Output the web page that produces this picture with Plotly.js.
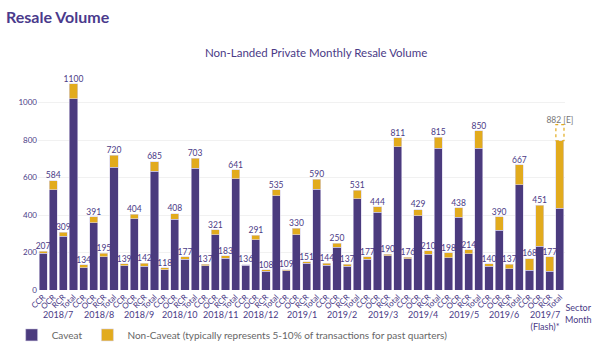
<!DOCTYPE html>
<html>
<head>
<meta charset="utf-8">
<script src="https://cdn.plot.ly/plotly-3.0.1.min.js"></script>
<style>html,body{margin:0;padding:0;background:#fff;}#chart{width:600px;height:361px;}</style>
</head>
<body>
<div id="chart"></div>
<script>
const months = ['2018/7','2018/8','2018/9','2018/10','2018/11','2018/12','2019/1','2019/2','2019/3','2019/4','2019/5','2019/6','2019/7<br>(Flash)*'];
const sectors = ['CCR','OCR','RCR','Total'];

const ccrCaveat    = [196,119,130,108,129,131,103,131,164,166,173,128,105];
const ccrNonCaveat = [11,15,9,10,8,5,6,13,13,10,25,12,63];
const ccrLabel     = [207,134,139,118,137,136,109,144,177,176,198,140,168];

const ocrCaveat    = [535,360,379,378,294,269,295,229,414,395,388,318,234];
const ocrNonCaveat = [49,31,25,30,27,22,35,21,30,34,50,72,217];
const ocrLabel     = [584,391,404,408,321,291,330,250,444,429,438,390,451];

const rcrCaveat    = [287,177,128,164,170,101,142,126,182,190,194,114,100];
const rcrNonCaveat = [22,18,14,13,13,7,9,11,8,20,20,23,77];
const rcrLabel     = [309,195,142,177,183,108,151,137,190,210,214,137,177];

const totalCaveat    = [1021,654,633,650,593,503,538,486,764,755,757,561,437];
const totalNonCaveat = [79,66,52,53,48,32,52,45,47,60,93,106,359];
const totalLabel     = ['1100','720','685','703','641','535','590','531','811','815','850','667','882 [E]'];
const totalLabelValue = [1100,720,685,703,641,535,590,531,811,815,850,667,882];

const PURPLE = '#4b3b7e';
const YELLOW = '#e2ab1d';
const TEXT = '#4a3a86';

const cav = [ccrCaveat, ocrCaveat, rcrCaveat, totalCaveat];
const non = [ccrNonCaveat, ocrNonCaveat, rcrNonCaveat, totalNonCaveat];
const lab = [ccrLabel.map(String), ocrLabel.map(String), rcrLabel.map(String), totalLabel];
const labV = [ccrLabel, ocrLabel, rcrLabel, totalLabelValue];

const xs=[], yc=[], yn=[], lt=[], ly=[], lc=[], tickvals=[], ticktext=[];
let i=0;
months.forEach((m,mi)=>{
  sectors.forEach((s,si)=>{
    xs.push(i); yc.push(cav[si][mi]); yn.push(non[si][mi]);
    lt.push(lab[si][mi]); ly.push(labV[si][mi]);
    lc.push(lab[si][mi].indexOf('[E]')>=0 ? '#777777' : TEXT);
    tickvals.push(i); ticktext.push(s);
    i++;
  });
});

const lastIdx = xs.length-1;
const drawnTop = totalCaveat[12] + totalNonCaveat[12];

const traces = [
  {type:'bar', name:'Caveat', x:xs, y:yc, marker:{color:PURPLE, line:{color:'#d9d3ea', width:0.6}}, hoverinfo:'skip'},
  {type:'bar', name:'Non-Caveat (typically represents 5-10% of transactions for past quarters)', x:xs, y:yn, marker:{color:YELLOW, line:{color:'#d9d3ea', width:0.6}}, hoverinfo:'skip'},
  {type:'scatter', mode:'text', x:xs, y:ly, text:lt, textposition:'top center', textfont:{size:8.5, color:lc, family:'Lato, sans-serif'}, showlegend:false, cliponaxis:false, hoverinfo:'skip'}
];

const annotations = months.map((m,mi)=>({
  x: mi*4+1.5, xref:'x', y:-0.075, yref:'paper', yanchor:'top', text:m, showarrow:false,
  font:{size:9, color:TEXT, family:'Lato, sans-serif'}
}));
annotations.push({x:1.025, xref:'paper', y:-0.045, yref:'paper', yanchor:'top', xanchor:'center', text:'Sector<br>Month', showarrow:false, font:{size:9, color:TEXT, family:'Lato, sans-serif'}});
annotations.push({x:(317-0)/600, xref:'paper', y:1+ (294-52-229)/229, yref:'paper', text:'Non-Landed Private Monthly Resale Volume', showarrow:false, yanchor:'middle', font:{size:11.5, color:TEXT, family:'Lato, sans-serif'}});

const shapes = [{
  type:'rect', xref:'x', yref:'y', x0:lastIdx-0.4, x1:lastIdx+0.4, y0:drawnTop, y1:totalLabelValue[12],
  line:{color:YELLOW, width:1.2, dash:'dot'}, fillcolor:'rgba(0,0,0,0)'
}];

const layout = {
  width:600, height:361,
  margin:{l:33, r:34.5, t:65, b:67},
  paper_bgcolor:'#fff', plot_bgcolor:'#fff',
  barmode:'stack', bargap:0.2,
  font:{family:'Lato, sans-serif', color:TEXT},
  title:{text:'<b>Resale Volume</b>', x:6/600, xanchor:'left', xref:'container', y:1-17/361, yanchor:'middle', yref:'container', font:{size:16, color:'#4a3a8c', family:'Lato, sans-serif'}},
  xaxis:{range:[-0.5, xs.length-0.5], tickmode:'array', tickvals:tickvals, ticktext:ticktext, tickangle:-45, tickfont:{size:8, color:TEXT}, showgrid:false, zeroline:false, showline:false, ticks:''},
  yaxis:{range:[0,1200], tickvals:[0,200,400,600,800,1000], tickfont:{size:8, color:TEXT}, gridcolor:'#f1f1f1', zeroline:false, showline:false, ticks:''},
  legend:{orientation:'h', x:-0.05, xanchor:'left', y:-0.135, yanchor:'top', font:{size:10, color:'#666', family:'Lato, sans-serif'}, traceorder:'normal'},
  annotations:annotations,
  shapes:shapes,
  showlegend:true
};

Plotly.newPlot('chart', traces, layout, {staticPlot:true, displayModeBar:false});
</script>
</body>
</html>
